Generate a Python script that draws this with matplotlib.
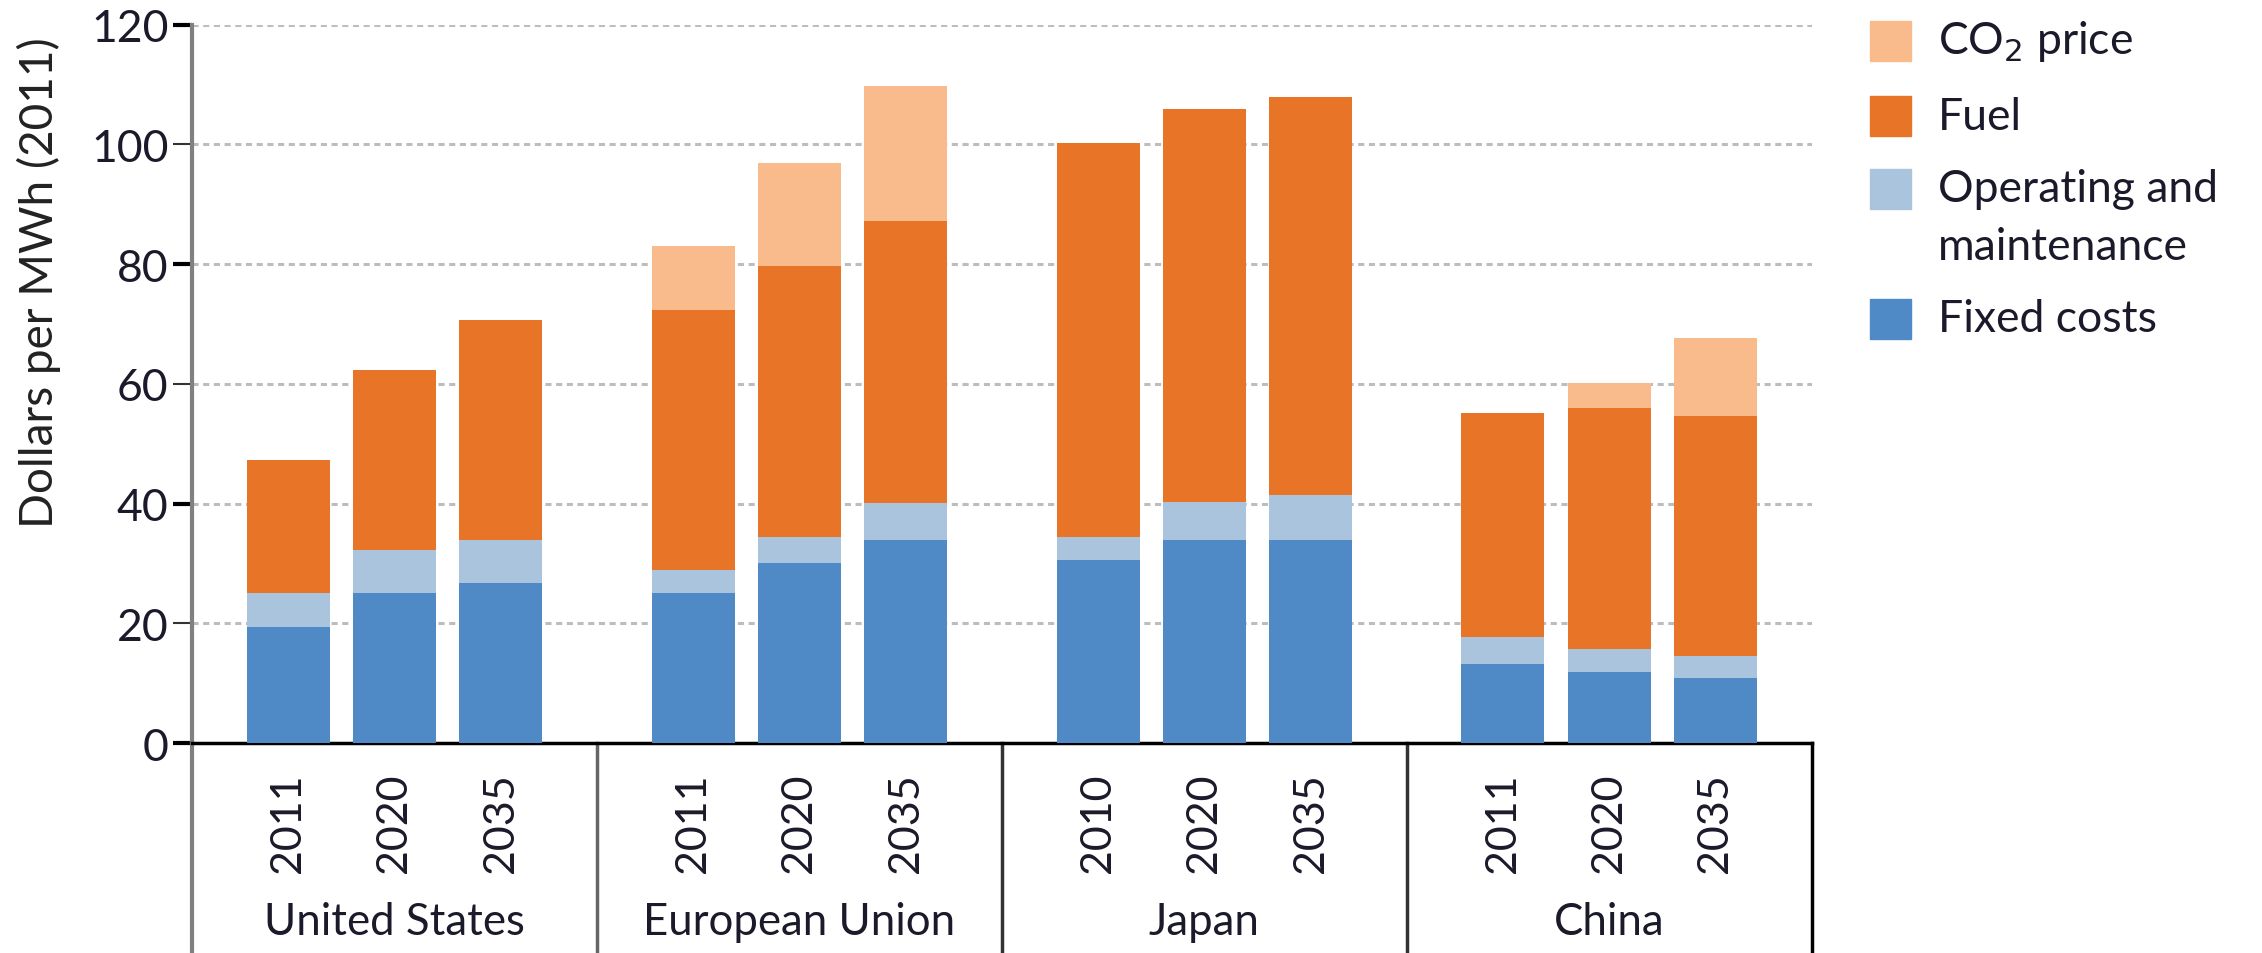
import matplotlib
matplotlib.use("Agg")
import matplotlib.pyplot as plt
import numpy as np
from matplotlib.patches import Rectangle

plt.rcParams['font.family'] = ['Lato', 'DejaVu Sans']

countries = ["United States", "European Union", "Japan", "China"]
years = ["2011", "2020", "2035", "2011", "2020", "2035", "2010", "2020", "2035", "2011", "2020", "2035"]
fixed = [19.4, 25.1, 26.8, 25.1, 30.1, 34.0, 30.6, 34.0, 34.0, 13.3, 11.8, 10.8]
om = [5.7, 7.2, 7.2, 3.9, 4.3, 6.1, 3.8, 6.2, 7.4, 4.5, 3.9, 3.7]
fuel = [22.2, 30.1, 36.7, 43.3, 45.3, 47.2, 65.8, 65.8, 66.6, 37.4, 40.2, 40.2]
co2 = [0, 0, 0, 10.7, 17.2, 22.4, 0, 0, 0, 0, 4.3, 13.0]

c_fixed = "#4F8AC7"
c_om = "#ABC4DE"
c_fuel = "#E87428"
c_co2 = "#F9BB8C"
txt = "#1a1a2a"

W, H = 2262, 954
fig = plt.figure(figsize=(W / 100, H / 100), dpi=100)
ax = fig.add_axes([0.0849, 0.220, 0.716, 0.753])

offsets = [-1.05, 0.0, 1.05]
x = np.array([4 * g + o for g in range(4) for o in offsets])
w = 0.82
fixed_a = np.array(fixed)
om_a = np.array(om)
fuel_a = np.array(fuel)
co2_a = np.array(co2)

ax.bar(x, fixed_a, w, color=c_fixed, zorder=3)
ax.bar(x, om_a, w, bottom=fixed_a, color=c_om, zorder=3)
ax.bar(x, fuel_a, w, bottom=fixed_a + om_a, color=c_fuel, zorder=3)
ax.bar(x, co2_a, w, bottom=fixed_a + om_a + fuel_a, color=c_co2, zorder=3)

ax.set_xlim(-2, 14)
ax.set_ylim(0, 120)
ax.set_yticks([0, 40, 80, 120])
ax.set_yticks([20, 60, 100], minor=True)
ax.set_yticklabels(["0", "40", "80", "120"])
ax.set_yticklabels(["20", "60", "100"], minor=True)
ax.yaxis.grid(True, which="both", linestyle=(0, (2, 1.5)), color="#BDBDBD", linewidth=2.2, zorder=0)
ax.set_axisbelow(True)

for s in ["top", "right"]:
    ax.spines[s].set_visible(False)
ax.spines["left"].set_color("#808080")
ax.spines["left"].set_linewidth(3)
ax.spines["bottom"].set_color("black")
ax.spines["bottom"].set_linewidth(2.5)

ax.tick_params(axis="y", which="major", direction="out", length=14, width=3, color="black",
               labelsize=32, pad=3, labelcolor=txt)
ax.tick_params(axis="y", which="minor", direction="out", length=14, width=1.5, color="#333333",
               labelsize=32, pad=3, labelcolor=txt)
ax.set_xticks([])

trans = ax.get_xaxis_transform()
for xi, yr in zip(x, years):
    ax.text(xi, -0.110, yr, transform=trans, rotation=90, ha="center", va="center",
            fontsize=31, color=txt)

fig.text(39 / W, 1 - 283 / H, "Dollars per MWh (2011)", rotation=90, ha="center",
         va="center", fontsize=33, color="#222222")

# group boxes below the axis
for xs, col in [(2, "#666666"), (6, "#333333"), (10, "#333333"), (14, "black")]:
    ax.plot([xs, xs], [0, -0.30], transform=trans, color=col, lw=2.5, clip_on=False)
ax.plot([-2, -2], [0, -0.30], transform=trans, color="#808080", lw=3, clip_on=False)

for g, name in enumerate(countries):
    ax.text(4 * g, -0.249, name, transform=trans, ha="center", va="center",
            fontsize=31.5, color=txt)

# legend (drawn in figure pixel coordinates)
legend_items = [
    (c_co2, 42, ["CO$_2$ price"]),
    (c_fuel, 117, ["Fuel"]),
    (c_om, 190, ["Operating and", "maintenance"]),
    (c_fixed, 320, ["Fixed costs"]),
]
px, pw, ph = 1870, 41, 40
for col, yc, lines in legend_items:
    fig.add_artist(Rectangle((px / W, 1 - (yc + ph / 2) / H), pw / W, ph / H,
                             transform=fig.transFigure, color=col))
    for i, line in enumerate(lines):
        fig.text(1938 / W, 1 - (yc + i * 58) / H, line, ha="left", va="center",
                 fontsize=32, color=txt)

fig.savefig("out.png", dpi=100)
